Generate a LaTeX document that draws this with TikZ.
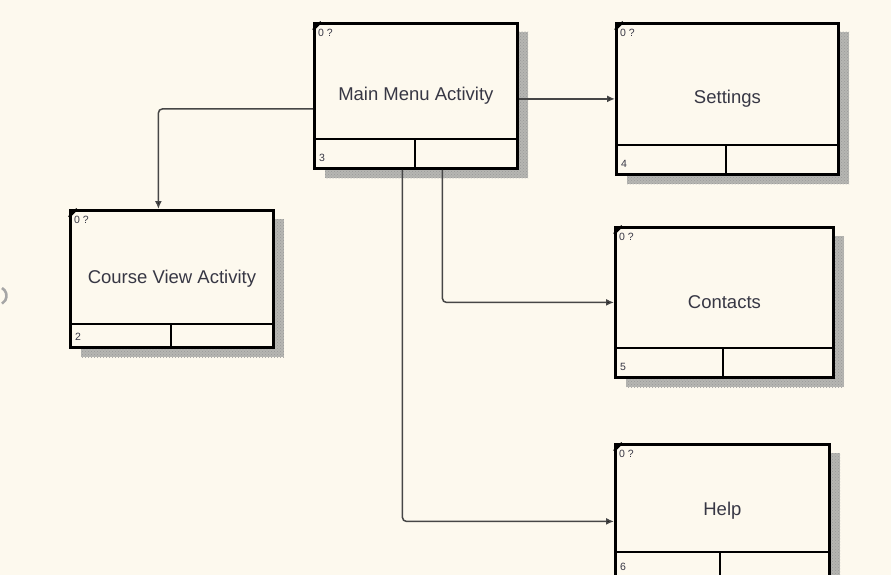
\documentclass[tikz,border=0pt]{standalone}
\usepackage{fontspec}
\setmainfont{Liberation Sans}
\usetikzlibrary{arrows.meta,calc,patterns}
\definecolor{bgc}{RGB}{253,249,238}
\definecolor{txtc}{RGB}{55,55,68}
\definecolor{shc}{RGB}{182,182,178}
\definecolor{connc}{RGB}{70,70,70}
\tikzset{
  umlbox/.style={draw=black, fill=bgc, line width=2.8pt, inner sep=0pt, anchor=north west,
    font=\fontsize{18.5}{20}\selectfont, text=txtc},
  shadowbox/.style={fill=shc},
  shadowtex/.style={pattern=crosshatch dots, pattern color=gray!80},
  divider/.style={draw=black, line width=2.5pt},
  smalltxt/.style={font=\fontsize{10.5}{11}\selectfont, text=txtc, inner sep=0pt},
  corner/.style={draw=black, line width=2.2pt},
  conn/.style={draw=connc, line width=1.5pt, rounded corners=4pt, -{Latex[length=8pt,width=7pt,fill=black]}}
}
% #1 name, #2 x, #3 y, #4 w, #5 h, #6 divider y offset, #7 vertical divider x offset, #8 label, #9 number
\newcommand\umlrect[9]{%
  \fill[shadowbox] (#2+12,#3+10) rectangle (#2+#4+12,#3+#5+11);
  \fill[shadowtex] (#2+12,#3+10) rectangle (#2+#4+12,#3+#5+11);
  \node[umlbox, minimum width=#4pt, minimum height=#5pt] (#1) at (#2,#3) {#8};
  \draw[divider] (#2,#3+#6) -- (#2+#4,#3+#6);
  \draw[divider] (#2+#7,#3+#6) -- (#2+#7,#3+#5);
  \draw[corner] (#2,#3+8) -- (#2+8,#3);
  \node[smalltxt, anchor=west] (#1-q) at (#2+5,#3+11) {0 ?};
  \node[smalltxt, anchor=west] (#1-n) at (#2+6,#3+#5-9) {#9};
}
\begin{document}
\begin{tikzpicture}[x=1pt,y=-1pt]
\fill[bgc] (0,0) rectangle (891,575);
\useasboundingbox (0,0) rectangle (891,575);
\clip (0,0) rectangle (891,575);
% artifact at left edge
\draw[gray!70, line width=2.6pt] (2,288) arc[start angle=120, end angle=240, radius=-9];
\umlrect{mm}{313}{22}{203}{145}{117}{102}{Main Menu Activity}{3}
\umlrect{st}{615}{22}{222}{151}{123}{111}{Settings}{4}
\umlrect{cv}{69}{209}{203}{137}{115}{102}{Course View Activity}{2}
\umlrect{ct}{614}{226}{218}{150}{122}{109}{Contacts}{5}
\umlrect{hp}{614}{443}{214}{133}{109}{106}{Help}{6}
% connectors
\draw[conn] ([yshift=-13pt]mm.west) -| ([xshift=-13.5pt]cv.north);
\draw[conn] (st.west -| mm.east) -- (st.west);
\draw[conn] ([xshift=26.5pt]mm.south) |- (ct.west);
\draw[conn] ([xshift=-13.5pt]mm.south) |- ([yshift=-10.5pt]hp.west);
\end{tikzpicture}
\end{document}
